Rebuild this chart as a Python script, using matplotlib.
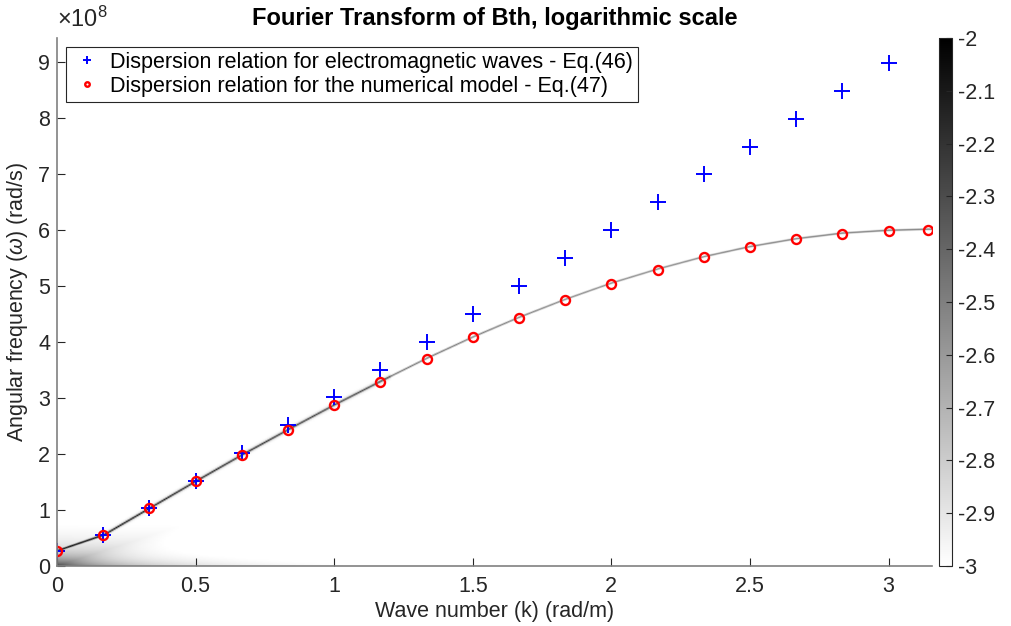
import numpy as np
import matplotlib
matplotlib.use('Agg')
import matplotlib.pyplot as plt

plt.rcParams['font.family'] = ['Liberation Sans', 'DejaVu Sans']
plt.rcParams['font.size'] = 15.5
plt.rcParams['mathtext.fontset'] = 'custom'
plt.rcParams['mathtext.rm'] = 'Liberation Sans'
plt.rcParams['mathtext.it'] = 'Liberation Sans:italic'

# wave number samples (rad/m)
k_em = [0, 1/6, 2/6, 3/6, 4/6, 5/6, 1, 7/6, 8/6, 9/6, 10/6, 11/6, 2, 13/6, 14/6, 15/6, 16/6, 17/6, 3]
# electromagnetic waves, omega in 1e8 rad/s
w_em = [0.27, 0.56, 1.04, 1.52, 2.02, 2.52, 3.01, 3.50, 4.00, 4.50, 5.00, 5.50,
        6.00, 6.49, 6.99, 7.48, 7.98, 8.48, 8.97]

k_num = k_em + [3.1416]
# numerical model, omega in 1e8 rad/s
w_num = [0.27, 0.55, 1.03, 1.51, 1.98, 2.43, 2.87, 3.29, 3.70, 4.08, 4.43, 4.75,
         5.04, 5.29, 5.51, 5.69, 5.83, 5.93, 5.98, 6.00]

k_max = 3.157
w_max = 9.42

# background: log-spectrum estimate, ridge along the numerical dispersion curve
kk = np.linspace(0, k_max, 420)
ww = np.linspace(0, w_max, 700)
K, W = np.meshgrid(kk, ww)
ridge_w = np.interp(K, k_num, w_num)
ridge = np.exp(-((W - ridge_w) / 0.016) ** 2)
halo = np.exp(-((W - ridge_w) / 0.07) ** 2)
strength = np.interp(K, [0, 0.3, 1.0, 2.0, 3.157], [0.95, 0.9, 0.7, 0.55, 0.6])
spec = -3.05 + strength * ridge + 0.15 * halo * (K < 1.2)
# low-frequency content near the origin
low = 0.45 * np.exp(-W / 0.15) * np.exp(-K / 0.5) * (K < 1.15)
fan = 0.3 * np.exp(-np.abs(W - 1.6 * K) / 0.4) * np.exp(-K / 0.25) * (W < 1.4)
spec = np.maximum(spec, -3.05 + low + fan)

fig = plt.figure(figsize=(10.12, 6.26), dpi=100)
ax = fig.add_axes([0.0563, 0.0958, 0.8647, 0.8435])
cax = fig.add_axes([0.928, 0.0958, 0.0128, 0.8435])

im = ax.imshow(spec, origin='lower', extent=[0, k_max, 0, w_max], aspect='auto',
               cmap='gray_r', vmin=-3, vmax=-2, interpolation='bilinear')

ax.plot(k_em, w_em, '+', color='#0000ff', ms=12, mew=1.4,
        label='Dispersion relation for electromagnetic waves - Eq.(46)')
ax.plot(k_num, w_num, 'o', color='#ff0000', mfc='none', ms=6.5, mew=1.7,
        label='Dispersion relation for the numerical model - Eq.(47)')

ax.set_xlim(0, k_max)
ax.set_ylim(0, w_max)
ax.set_xticks([0, 0.5, 1, 1.5, 2, 2.5, 3])
ax.set_xticklabels(['0', '0.5', '1', '1.5', '2', '2.5', '3'])
ax.set_yticks(range(10))
for s in ['top', 'right']:
    ax.spines[s].set_visible(False)
for s in ['left', 'bottom']:
    ax.spines[s].set_color('#808080')
    ax.spines[s].set_linewidth(1.2)
ax.tick_params(direction='in', length=6, color='#262626', labelcolor='#262626')
ax.tick_params(axis='x', pad=7)
ax.tick_params(axis='y', pad=5)
ax.set_xlabel('Wave number (k) (rad/m)', color='#262626', labelpad=3)
ax.set_ylabel(r'Angular frequency ($\omega$) (rad/s)', color='#262626', labelpad=6)
ax.set_title('Fourier Transform of Bth, logarithmic scale', fontsize=17, fontweight='bold', pad=9)
ax.text(0, 1.012, r'$\times10^{8}$', transform=ax.transAxes, fontsize=17, color='#262626',
        va='bottom', ha='left')

leg = ax.legend(loc='upper left', markerscale=0.5, handletextpad=0.3,
                fancybox=False, framealpha=1, borderaxespad=0.4, borderpad=0.25,
                labelspacing=0.12, handlelength=1.5)
leg.get_frame().set_edgecolor('#262626')
leg.get_frame().set_linewidth(0.8)

cb = fig.colorbar(im, cax=cax, ticks=np.arange(-3, -1.95, 0.1))
cb.set_ticklabels(['-3', '-2.9', '-2.8', '-2.7', '-2.6', '-2.5', '-2.4', '-2.3', '-2.2', '-2.1', '-2'])
cb.ax.tick_params(direction='in', length=4, color='#262626', labelcolor='#262626', pad=4)
cb.outline.set_edgecolor('#262626')
cb.outline.set_linewidth(0.8)

plt.savefig('out.png', dpi=100)
